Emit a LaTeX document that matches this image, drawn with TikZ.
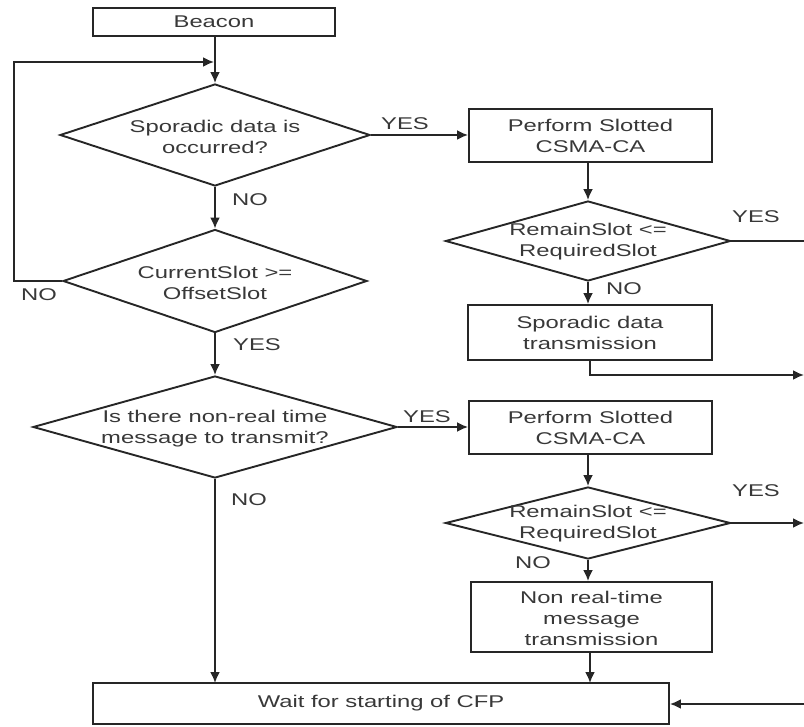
\documentclass[tikz,border=0pt]{standalone}
\usepackage{fontspec}
\setmainfont{Liberation Sans}[FakeStretch=1.4]
\usetikzlibrary{shapes.geometric,arrows.meta}
\begin{document}
\begin{tikzpicture}[x=1pt,y=-1pt,
  every node/.style={font=\fontsize{17}{21}\selectfont, text=black!78},
  stepbox/.style={draw=black!85, line width=1.9pt, rectangle, inner sep=0pt},
  decide/.style={draw=black!85, line width=1.9pt, diamond, inner sep=0pt, aspect=3},
  txt/.style={align=center, inner sep=0pt},
  lbl/.style={inner sep=0pt},
  conn/.style={draw=black!85, line width=1.9pt},
  arr/.style={conn, -{Latex[length=11pt,width=10pt]}}
]
\useasboundingbox (0,0) rectangle (804,727);
% boxes
\node[stepbox, minimum width=242, minimum height=28] (beacon) at (214,22) {Beacon};
\node[decide, minimum width=310, minimum height=102] (d1) at (215,135) {};
\node[txt] (d1t) at (215,137) {Sporadic data is\\occurred?};
\node[decide, minimum width=304, minimum height=103] (d2) at (215,281) {};
\node[txt] (d2t) at (215,283) {CurrentSlot >=\\OffsetSlot};
\node[decide, minimum width=364, minimum height=102] (d3) at (215,427) {};
\node[txt] (d3t) at (215,429) {Is there non-real time\\message to transmit?};

\node[stepbox, minimum width=243, minimum height=53] (b1) at (590.5,135.5) {};
\node[txt] (b1t) at (590.5,136) {Perform Slotted\\CSMA-CA};
\node[decide, minimum width=285, minimum height=80] (d4) at (588,241) {};
\node[txt] (d4t) at (588,242) {RemainSlot <=\\RequiredSlot};
\node[stepbox, minimum width=244, minimum height=55] (b2) at (590,332.5) {};
\node[txt] (b2t) at (590,333) {Sporadic data\\transmission};

\node[stepbox, minimum width=243, minimum height=53] (b3) at (590.5,427.5) {};
\node[txt] (b3t) at (590.5,428) {Perform Slotted\\CSMA-CA};
\node[decide, minimum width=285, minimum height=72] (d5) at (588,523) {};
\node[txt] (d5t) at (588,524) {RemainSlot <=\\RequiredSlot};
\node[stepbox, minimum width=241, minimum height=70] (b4) at (591.5,617) {};
\node[txt] (b4t) at (591.5,618) {Non real-time\\message\\transmission};

\node[stepbox, minimum width=576, minimum height=41] (wait) at (381,703.5) {Wait for starting of CFP};

% coordinates
\coordinate (loopL1) at (14,281);
\coordinate (loopL2) at (14,62);
\coordinate (loopEnd) at (214,62);
\coordinate (r1) at (804,241);
\coordinate (r2a) at (590,375);
\coordinate (r2b) at (804,375);
\coordinate (r3) at (804,523);
\coordinate (r4) at (804,704);
\coordinate (w1) at (215,683);
\coordinate (w2) at (590,683);

% connectors
\draw[arr] (beacon.south -| d1.north) -- (d1.north);
\draw[arr] (d2.west) -- (loopL1) -- (loopL2) -- (loopEnd);
\draw[arr] (d1.east) -- (b1.west |- d1.east);
\draw[arr] (d1.south) -- (d2.north);
\draw[arr] (d2.south) -- (d3.north);
\draw[arr] (d3.east) -- (b3.west |- d3.east);
\draw[arr] (d3.south) -- (w1);
\draw[arr] (b1.south -| d4.north) -- (d4.north);
\draw[conn] (d4.east) -- (r1);
\draw[arr] (d4.south) -- (b2.north -| d4.south);
\draw[arr] (b2.south -| r2a) -- (r2a) -- (r2b);
\draw[arr] (b3.south -| d5.north) -- (d5.north);
\draw[arr] (d5.east) -- (r3);
\draw[arr] (d5.south) -- (b4.north -| d5.south);
\draw[arr] (b4.south -| w2) -- (w2);
\draw[arr] (r4) -- (wait.east |- r4);

% labels
\node[lbl] (l1) at (405,124) {YES};
\node[lbl] (l2) at (250,200) {NO};
\node[lbl] (l3) at (39,295) {NO};
\node[lbl] (l4) at (257,345) {YES};
\node[lbl] (l5) at (427,417) {YES};
\node[lbl] (l6) at (249,500) {NO};
\node[lbl] (l7) at (756,217) {YES};
\node[lbl] (l8) at (624,289) {NO};
\node[lbl] (l9) at (756,491) {YES};
\node[lbl] (l10) at (533,563) {NO};
\end{tikzpicture}
\end{document}
